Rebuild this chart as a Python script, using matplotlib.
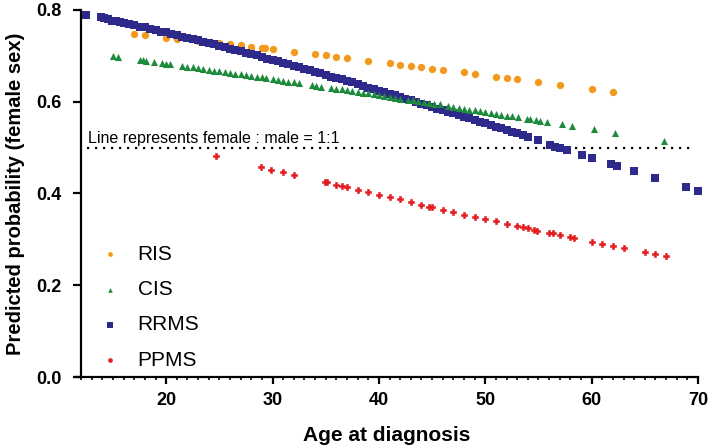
import matplotlib
matplotlib.use("Agg")
import matplotlib.pyplot as plt
from matplotlib.ticker import MultipleLocator, FormatStrFormatter

plt.rcParams["font.family"] = ["Liberation Sans", "DejaVu Sans"]

# ---- data ----
ris_age = [17, 18, 20, 21, 23, 24, 24.2, 25, 26, 27, 28, 29, 29.3, 30, 32, 34, 35, 36, 37,
           39, 41, 42, 43, 44, 45, 46, 48, 49, 51, 52, 53, 55, 57, 60, 62]
ris_prob = [0.747, 0.745, 0.740, 0.737, 0.733, 0.729, 0.729, 0.728, 0.726, 0.723, 0.720, 0.717,
            0.717, 0.715, 0.709, 0.704, 0.701, 0.697, 0.695, 0.689, 0.684, 0.681, 0.678, 0.675,
            0.672, 0.670, 0.664, 0.661, 0.655, 0.652, 0.649, 0.643, 0.636, 0.628, 0.622]

cis_age = [15, 15.5, 17.5, 17.8, 18.1, 18.9, 19.6, 20.0, 20.4,
           21.5, 22, 22.5, 23, 23.5, 24, 24.5, 25, 25.5, 26, 26.5, 27, 27.5, 28, 28.5, 29, 29.4,
           30, 30.5, 31, 31.5, 32, 32.5, 33.7, 34.1, 34.6, 35.5, 36, 36.5,
           37, 37.5, 38, 38.5, 39, 39.5, 40, 40.5, 41, 41.5, 42, 42.7, 43.2, 43.7, 44.2, 44.7,
           45.2, 45.7, 46.5, 47, 47.5, 48, 48.5, 49, 49.5, 50, 50.5, 51, 51.5, 52, 52.5,
           53.1, 53.9, 54.2, 54.8, 55.1, 55.8, 57.2, 58.2, 60.2, 62.2, 66.8]
cis_prob = [0.699, 0.697, 0.691, 0.690, 0.689, 0.686, 0.684, 0.683, 0.682,
            0.678, 0.676, 0.675, 0.673, 0.671, 0.670, 0.668, 0.666, 0.665, 0.663, 0.661, 0.660,
            0.658, 0.656, 0.654, 0.653, 0.651,
            0.649, 0.648, 0.646, 0.644, 0.642, 0.641, 0.636, 0.635, 0.633, 0.630, 0.628, 0.627,
            0.625, 0.623, 0.621, 0.620, 0.618, 0.616, 0.614, 0.612, 0.611, 0.609, 0.607, 0.604,
            0.603, 0.601, 0.599, 0.597, 0.595, 0.594, 0.591, 0.589, 0.587, 0.585, 0.583, 0.581,
            0.580, 0.578, 0.576, 0.574, 0.572, 0.570, 0.569, 0.566, 0.563, 0.562, 0.560, 0.559,
            0.556, 0.551, 0.547, 0.540, 0.532, 0.515]

rrms_age = [12.5, 13.9, 14.2, 14.5, 14.9, 15.3, 15.7,
            16, 16.5, 17, 17.5, 18, 18.5, 19, 19.5, 20, 20.5, 21, 21.5, 22, 22.5, 23, 23.5,
            24, 24.5, 25, 25.5, 26, 26.5, 27, 27.5, 28, 28.5, 29, 29.5, 30, 30.5, 31, 31.5,
            32, 32.5, 33, 33.5, 34, 34.5, 35, 35.5, 36, 36.5, 37, 37.5, 38, 38.5, 39, 39.5,
            40, 40.5, 41, 41.5, 42, 42.5, 43, 43.5, 44, 44.5, 45, 45.5, 46, 46.5, 47, 47.5,
            48, 48.5, 49, 49.5, 50, 50.5, 51, 51.5, 52, 52.5, 53, 53.5,
            54.0, 55.0, 56.1, 56.6, 57.0, 57.7, 59.05, 60.05, 61.8, 62.35, 64.0, 66.0, 68.85, 70.0]
rrms_prob = [0.790, 0.784, 0.782, 0.781, 0.777, 0.776, 0.774,
             0.772, 0.770, 0.767, 0.764, 0.762, 0.759, 0.756, 0.753, 0.751, 0.748, 0.745, 0.742,
             0.739, 0.737, 0.734, 0.731, 0.728, 0.725, 0.722, 0.719, 0.716, 0.713, 0.710, 0.707,
             0.704, 0.701, 0.697, 0.694, 0.691, 0.688, 0.685, 0.682, 0.678, 0.675, 0.672, 0.669,
             0.665, 0.662, 0.659, 0.655, 0.652, 0.649, 0.645, 0.642, 0.638, 0.635, 0.631, 0.628,
             0.624, 0.621, 0.617, 0.614, 0.610, 0.607, 0.603, 0.600, 0.596, 0.593, 0.589, 0.585,
             0.582, 0.578, 0.575, 0.571, 0.567, 0.564, 0.560, 0.556, 0.553, 0.549, 0.545, 0.542,
             0.538, 0.534, 0.531, 0.527,
             0.523, 0.516, 0.506, 0.502, 0.500, 0.495, 0.485, 0.478, 0.464, 0.460, 0.449, 0.434,
             0.414, 0.405]

ppms_age = [24.7, 28.9, 29.9, 31, 32, 34.9, 35.1, 36, 36.5, 37, 38, 39, 40, 41, 42, 43, 44,
            44.7, 45, 46, 47, 48, 49, 50, 51, 52, 53, 53.5, 54, 54.6, 54.9, 56, 56.4, 57, 58,
            58.3, 60, 61, 62, 63, 65, 66, 67]
ppms_prob = [0.482, 0.457, 0.452, 0.446, 0.441, 0.425, 0.424, 0.419, 0.417, 0.414, 0.408,
             0.403, 0.397, 0.392, 0.387, 0.381, 0.375, 0.371, 0.370, 0.364, 0.359, 0.353,
             0.349, 0.344, 0.339, 0.334, 0.329, 0.326, 0.324, 0.321, 0.319, 0.314, 0.313,
             0.310, 0.305, 0.304, 0.295, 0.290, 0.286, 0.281, 0.272, 0.268, 0.263]

ref_level = 0.5
ref_text = "Line represents female : male = 1:1"

# ---- figure ----
fig = plt.figure(figsize=(7.09, 4.46), dpi=100)
ax = fig.add_axes([0.1058, 0.1547, 0.8787, 0.8229])

ax.scatter(ris_age, ris_prob, s=28, marker="o", color="#F39A1E", linewidths=0,
           label="RIS", zorder=3, clip_on=False)
ax.scatter(rrms_age, rrms_prob, s=32, marker="s", color="#2E2A8C", linewidths=0,
           label="RRMS", zorder=3, clip_on=False)
ax.scatter(cis_age, cis_prob, s=26, marker="^", color="#1E8B3C", linewidths=0,
           label="CIS", zorder=4, clip_on=False)
ax.scatter(ppms_age, ppms_prob, s=22, marker="P", color="#E31A1C", edgecolors="#E31A1C",
           linewidths=0.4, label="PPMS", zorder=4, clip_on=False)

# reference line at 1:1
ax.plot([12.6, 69.7], [ref_level, ref_level], color="black", lw=1.6,
        linestyle=(0, (1, 2.6)), zorder=2)
ax.text(12.66, 0.510, ref_text, fontsize=11.5, ha="left", va="baseline")

ax.set_xlim(11.43, 70)
ax.set_ylim(0, 0.8)

for s in ["top", "right"]:
    ax.spines[s].set_visible(False)
ax.spines["left"].set_position(("data", 12))
ax.spines["left"].set_linewidth(1.6)
ax.spines["bottom"].set_linewidth(1.6)

ax.xaxis.set_major_locator(MultipleLocator(10))
ax.xaxis.set_minor_locator(MultipleLocator(1))
ax.yaxis.set_major_locator(MultipleLocator(0.2))
ax.yaxis.set_major_formatter(FormatStrFormatter("%.1f"))
ax.tick_params(axis="x", which="major", length=5, width=1.6, labelsize=13, pad=6)
ax.tick_params(axis="x", which="minor", length=2.5, width=1.2)
ax.tick_params(axis="y", which="major", length=6, width=1.6, labelsize=13, pad=8)
for lab in ax.get_xticklabels() + ax.get_yticklabels():
    lab.set_fontweight("bold")

ax.set_xlabel("Age at diagnosis", fontsize=15, fontweight="bold", labelpad=12)
ax.set_ylabel("Predicted probability (female sex)", fontsize=14.5, fontweight="bold",
              labelpad=8)

h, l = ax.get_legend_handles_labels()
order = [0, 2, 1, 3]
leg = ax.legend([h[i] for i in order], [l[i] for i in order], loc="upper left",
                bbox_to_anchor=(0.0, 0.40), frameon=False, fontsize=15,
                markerscale=0.65, handletextpad=0.3, labelspacing=0.78, borderaxespad=0.3)

fig.savefig("out.png", dpi=100)
